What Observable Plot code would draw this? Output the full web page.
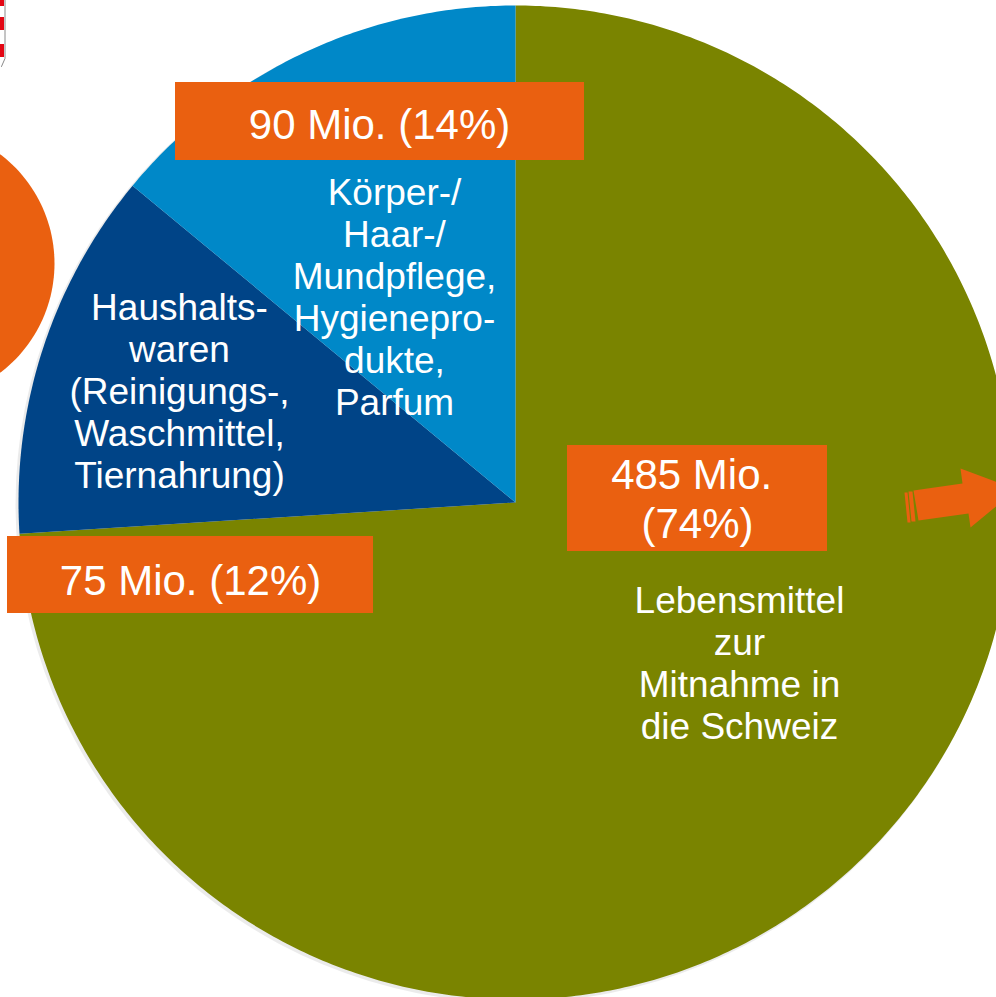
<!DOCTYPE html>
<html>
<head>
<meta charset="utf-8">
<script src="https://cdn.jsdelivr.net/npm/d3@7"></script>
<script src="https://cdn.jsdelivr.net/npm/@observablehq/plot@0.6"></script>
<style>
  html, body { margin: 0; padding: 0; background: #ffffff; }
  #chart { width: 996px; height: 997px; overflow: hidden; }
</style>
</head>
<body>
<div id="chart"></div>
<script>
// ---- Data ----
const categories = [
  "Lebensmittel zur Mitnahme in die Schweiz",
  "Haushaltswaren (Reinigungs-, Waschmittel, Tiernahrung)",
  "Körper-/Haar-/Mundpflege, Hygieneprodukte, Parfum"
];
const valuesMio = [485, 75, 90];
const percents = [74, 12, 14];
const categoryLabels = [
  "Lebensmittel\nzur\nMitnahme in\ndie Schweiz",
  "Haushalts-\nwaren\n(Reinigungs-,\nWaschmittel,\nTiernahrung)",
  "Körper-/\nHaar-/\nMundpflege,\nHygienepro-\ndukte,\nParfum"
];
const valueLabels = [
  "485 Mio.\u00A0\n(74%)",
  "75 Mio. (12%)",
  "90 Mio. (14%)"
];
const colors = ["#7a8400", "#004487", "#0088c8"];
const orange = "#ea6010";

// ---- Layout (pixel coordinate system of the picture) ----
const W = 996, H = 997;
const cx = 515, cy = 502, R = 497;

// pie geometry from the percentages (clockwise from 12 o'clock)
const total = d3.sum(percents);
let acc = 0;
const slices = categories.map((c, i) => {
  const a0 = acc / total * 2 * Math.PI;
  acc += percents[i];
  const a1 = acc / total * 2 * Math.PI;
  return {name: c, a0, a1, i};
});
const piePts = [];
for (const s of slices) {
  piePts.push({name: s.name, x: cx, y: cy});
  const n = Math.max(8, Math.ceil((s.a1 - s.a0) / 0.01));
  for (let k = 0; k <= n; k++) {
    const a = s.a0 + (s.a1 - s.a0) * k / n;
    piePts.push({name: s.name, x: cx + R * Math.sin(a), y: cy - R * Math.cos(a)});
  }
}

// label placement (annotation layout)
const labelPos = [
  {cat: [739, 662], box: [567, 827, 445, 551], val: [697, 497]},
  {cat: [179, 390], box: [7, 373, 536, 613], val: [190, 579]},
  {cat: [394, 296], box: [175, 584, 82, 160], val: [379, 123]}
];
const catText = categories.map((c, i) => ({name: c, text: categoryLabels[i], x: labelPos[i].cat[0], y: labelPos[i].cat[1]}));
const valText = categories.map((c, i) => ({name: c, text: valueLabels[i], v: valuesMio[i], x: labelPos[i].val[0], y: labelPos[i].val[1]}));
const boxes = categories.map((c, i) => ({name: c, x1: labelPos[i].box[0], x2: labelPos[i].box[1], y1: labelPos[i].box[2], y2: labelPos[i].box[3]}));

// decorations
const circlePts = d3.range(0, 361, 2).map(d => ({x: -83 + 137 * Math.cos(d * Math.PI / 180), y: 263 + 137 * Math.sin(d * Math.PI / 180)}));
const arrowPts = [
  {x: 913, y: 490}, {x: 962, y: 483}, {x: 960, y: 468}, {x: 1016, y: 489},
  {x: 970, y: 527}, {x: 968, y: 513}, {x: 918, y: 520}
];
const stripe1 = [{x: 904, y: 492}, {x: 907, y: 492}, {x: 910, y: 522}, {x: 907, y: 522}];
const stripe2 = [{x: 908, y: 491}, {x: 912, y: 491}, {x: 915, y: 521}, {x: 911, y: 521}];
const shieldRed = [[0, 6], [17, 30], [44, 57]];
const shieldWhite = [[6, 17], [30, 44]];

const font = "'Liberation Sans', Arial, Helvetica, sans-serif";

const chart = Plot.plot({
  width: W,
  height: H,
  margin: 0,
  x: {domain: [0, W], range: [0, W], axis: null},
  y: {domain: [0, H], range: [0, H], axis: null},
  color: {domain: categories, range: colors},
  style: {fontFamily: font, background: "white"},
  marks: [
    // shield at top left
    Plot.rect(shieldRed, {x1: 0, x2: 4, y1: d => d[0], y2: d => d[1], fill: "#e30613"}),
    Plot.rect(shieldWhite, {x1: 0, x2: 4, y1: d => d[0], y2: d => d[1], fill: "#ffffff"}),
    Plot.ruleX([4.5], {y1: 0, y2: 58, stroke: "#8a8a8a", strokeWidth: 1}),
    Plot.line([{x: 4.5, y: 58}, {x: 1, y: 66}], {x: "x", y: "y", stroke: "#8a8a8a", strokeWidth: 1}),
    // orange circle at left
    Plot.line(circlePts, {x: "x", y: "y", fill: orange, stroke: "none", curve: "linear-closed"}),
    // soft shadow of the pie (offset to lower left)
    Plot.dot([{x: cx - 2, y: cy + 2}], {x: "x", y: "y", r: R + 1, fill: "#000", fillOpacity: 0.08, stroke: "none"}),
    // pie slices
    Plot.line(piePts, {x: "x", y: "y", z: "name", fill: "name", stroke: "none", curve: "linear-closed"}),
    // arrow
    Plot.line(arrowPts, {x: "x", y: "y", fill: orange, stroke: "none", curve: "linear-closed"}),
    Plot.line(stripe1, {x: "x", y: "y", fill: orange, stroke: "none", curve: "linear-closed"}),
    Plot.line(stripe2, {x: "x", y: "y", fill: orange, stroke: "none", curve: "linear-closed"}),
    // category labels
    Plot.text(catText, {x: "x", y: "y", text: "text", fill: "white", fontSize: 37, lineHeight: 1.14, textAnchor: "middle"}),
    // value boxes and labels
    Plot.rect(boxes, {x1: "x1", x2: "x2", y1: "y1", y2: "y2", fill: orange}),
    Plot.text(valText, {x: "x", y: "y", text: "text", fill: "white", fontSize: 42, lineHeight: 1.17, textAnchor: "middle"})
  ]
});
document.getElementById("chart").appendChild(chart);
</script>
</body>
</html>
